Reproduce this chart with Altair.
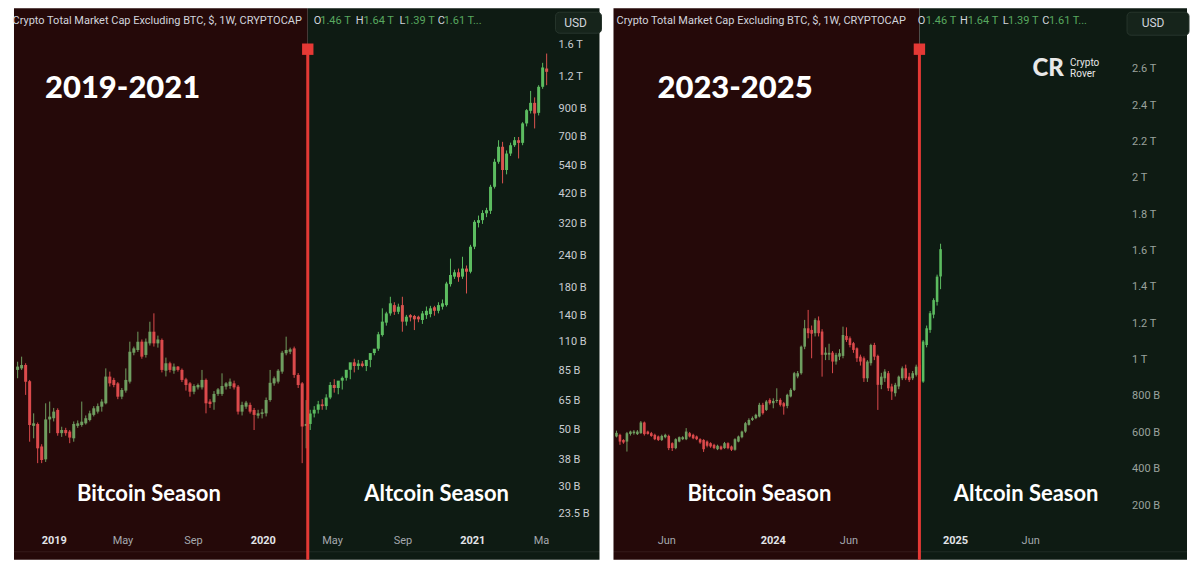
import altair as alt
import numpy as np
import pandas as pd

# ---------------- data ----------------
# Left panel: weekly candles, values in billions USD
left_start = "2018-10-29"
left_open = [85.9, 87.1, 89.8, 77.6, 51.9, 52.8, 43.1, 38.4, 55.0, 55.6,
             59.9, 48.6, 50.0, 49.3, 46.4, 51.9, 52.3, 53.1, 54.7, 57.3,
             59.0, 61.7, 63.6, 80.9, 78.5, 76.1, 67.5, 71.3, 77.3, 100.3,
             102.8, 110.8, 98.3, 109.1, 121.2, 109.1, 112.5, 85.3, 91.2, 85.3,
             88.5, 85.9, 78.9, 76.1, 70.6, 73.4, 73.4, 78.5, 64.6, 64.2,
             69.2, 69.2, 73.9, 74.3, 76.1, 73.9, 59.0, 61.7, 62.7, 59.9,
             56.9, 57.8, 58.1, 65.5, 76.1, 77.3, 84.6, 99.8, 101.2, 104.3,
             82.1, 76.1, 51.9, 52.8, 58, 60, 63, 62, 67, 75,
             73, 78, 80, 86, 92, 89, 91, 89, 94, 100,
             104, 117.6, 131.5, 142.9, 154, 145, 154, 132.7, 140.7, 139.6,
             138.7, 134.7, 140.7, 142, 151, 146.3, 151.8, 154, 186, 199,
             207, 199, 214, 208, 260.6, 323, 331, 352, 360, 447,
             560, 641, 520, 603, 650, 680, 664, 791, 886, 952,
             870, 1100, 1297]
left_high = [92.5, 96.8, 91.2, 78.5, 58.1, 53.5, 44.0, 63.6, 64.6, 61.0,
             60.8, 51.5, 51.0, 50.0, 54.0, 54.5, 64.6, 57.0, 59.5, 62.0,
             63.5, 66.0, 87.1, 84.6, 80.0, 77.0, 73.0, 87.1, 110.8, 106.0,
             121.2, 113.0, 114.0, 132.6, 143.0, 117.0, 114.0, 96.0, 92.5, 91.0,
             89.0, 87.0, 80.0, 77.0, 75.5, 76.0, 85.9, 79.5, 66.0, 71.0,
             73.0, 83.3, 77.0, 79.5, 78.0, 75.0, 64.5, 65.0, 64.0, 61.0,
             60.0, 60.5, 67.0, 85.9, 81.0, 86.5, 102.0, 115.9, 105.0, 106.0,
             83.5, 77.0, 65.5, 60, 62, 65, 66, 69, 77, 79,
             77, 81, 83, 88, 95, 94, 93, 92, 96, 102,
             121, 149.6, 145, 166, 158, 156, 166, 141, 142, 141,
             140, 146, 152, 153, 153, 158, 162, 190, 234, 212,
             214, 238, 220, 265, 331, 345, 362, 370, 455, 575,
             680, 670, 620, 665, 700, 700, 800, 900, 1060, 1000,
             1116, 1365, 1484]
left_low = [79.7, 85.9, 68.6, 45.0, 46.4, 37.1, 37.1, 37.5, 48.6, 54.0,
            47.5, 47.0, 47.5, 44.4, 45.0, 51.0, 51.5, 52.5, 54.0, 56.5,
            58.0, 59.0, 63.0, 74.0, 73.5, 66.0, 66.0, 70.0, 76.0, 98.0,
            101.0, 95.0, 96.0, 107.0, 106.0, 105.0, 84.0, 81.0, 84.0, 83.0,
            84.6, 77.0, 71.3, 67.5, 69.0, 72.0, 72.0, 58.1, 61.0, 60.0,
            68.0, 68.0, 72.0, 72.5, 72.0, 57.5, 57.0, 60.5, 58.0, 50.0,
            55.5, 55.5, 56.5, 64.5, 74.5, 76.0, 83.0, 98.0, 99.0, 80.0,
            73.0, 37.1, 42.4, 50, 56, 58, 60, 60, 66, 70,
            69, 72, 78, 79, 84, 86, 88, 85, 88, 98,
            102, 116, 128, 140, 141, 142, 121.2, 128, 133, 123,
            132, 130, 136, 138, 140, 143, 148, 152, 182, 195,
            190, 195, 171, 205, 255, 310, 320, 340, 350, 440,
            550, 461, 500, 590, 640, 577, 650, 770, 865, 756,
            850, 1080, 1116]
left_close = [88.5, 89.8, 77.3, 52.3, 53.1, 42.4, 38.2, 55.0, 56.4, 59.0,
              48.6, 50.0, 48.6, 46.7, 52.8, 53.1, 53.9, 55.6, 58.1, 60.8,
              62.0, 64.6, 80.9, 76.1, 75.0, 67.5, 71.7, 78.5, 101.2, 104.3,
              110.8, 96.8, 110.8, 121.2, 109.1, 113.0, 85.9, 91.2, 85.9, 88.5,
              85.9, 78.5, 75.0, 70.6, 74.3, 75.0, 78.5, 63.6, 63.2, 69.2,
              72.1, 74.3, 76.1, 77.3, 73.4, 59.0, 62.7, 64.0, 59.0, 57.3,
              58.1, 58.6, 65.5, 76.5, 79.7, 85.3, 100.3, 102.8, 103.4, 82.1,
              75.0, 51.6, 52.8, 58, 60, 63, 62, 67, 75, 73,
              78, 80, 86, 92, 89, 91, 89, 94, 100, 104,
              118.4, 132.7, 142.9, 156.5, 145, 151.8, 132.7, 138.7, 137.9, 135.5,
              135.5, 142.9, 146.3, 149.6, 146.3, 154, 156.5, 187, 202, 207,
              198, 214, 208, 260.6, 326, 331, 353, 362, 447, 560,
              641, 520, 603, 650, 680, 664, 791, 891, 952, 865,
              1100, 1309, 1259]

# Right panel: weekly candles, values in trillions USD
right_start = "2023-02-20"
right_open = [.580, .589, .561, .552, .594, .598, .593, .598, .657, .607,
              .598, .589, .580, .561, .576, .583, .543, .516, .552, .565,
              .565, .598, .589, .580, .565, .561, .552, .543, .534, .510,
              .525, .516, .543, .525, .507, .552, .576, .607, .644, .671,
              .681, .690, .754, .726, .781, .763, .775, .781, .763, .748,
              .800, .836, .910, .928, 1.074, 1.175, 1.166, 1.148, 1.218, 1.157,
              1.029, 1.030, 1.041, .992, 1.019, 1.023, 1.133, 1.120, 1.093, 1.065,
              1.019, 1.010, .900, .983, 1.083, 1.023, .864, .900, .928, .855,
              .818, .855, .900, .955, .909, .900, .919, .974, .882, 1.083,
              1.166, 1.250, 1.320, 1.460]
right_high = [.612, .595, .565, .605, .612, .615, .615, .665, .662, .612,
              .605, .595, .585, .590, .595, .590, .548, .570, .580, .582,
              .626, .605, .595, .585, .570, .565, .558, .548, .540, .535,
              .530, .550, .548, .530, .570, .585, .612, .660, .680, .690,
              .705, .765, .765, .780, .790, .790, .845, .790, .770, .815,
              .845, .935, .940, 1.080, 1.221, 1.276, 1.190, 1.230, 1.240, 1.170,
              1.070, 1.090, 1.050, 1.040, 1.060, 1.184, 1.180, 1.130, 1.100, 1.070,
              1.030, 1.020, 1.000, 1.090, 1.095, 1.030, .930, .950, .940, .870,
              .875, .915, .965, .975, .930, .940, .975, .985, 1.110, 1.190,
              1.270, 1.340, 1.470, 1.640]
right_low = [.575, .534, .540, .497, .585, .590, .588, .595, .585, .590,
             .578, .560, .555, .555, .570, .505, .500, .510, .548, .560,
             .560, .575, .565, .560, .540, .495, .520, .518, .510, .505,
             .505, .512, .510, .500, .502, .548, .570, .600, .640, .665,
             .675, .685, .700, .720, .755, .735, .765, .745, .700, .735,
             .795, .830, .900, .920, 1.060, 1.120, 1.010, 1.130, 1.130, .909,
             1.000, 1.000, .928, .975, 1.000, 1.010, 1.100, 1.070, 1.040, .990,
             .970, .880, .880, .970, 1.000, .726, .840, .880, .830, .781,
             .800, .840, .890, .890, .880, .890, .910, .875, .875, 1.070,
             1.150, 1.230, 1.300, 1.390]
right_close = [.600, .552, .547, .598, .607, .607, .607, .657, .593, .594,
               .583, .565, .561, .583, .589, .516, .516, .565, .576, .576,
               .607, .580, .570, .565, .547, .510, .529, .525, .516, .529,
               .510, .543, .516, .507, .565, .580, .607, .653, .671, .681,
               .699, .754, .708, .772, .763, .775, .781, .754, .745, .809,
               .836, .928, .928, 1.074, 1.175, 1.148, 1.145, 1.221, 1.148, 1.029,
               1.041, 1.040, .992, 1.029, 1.038, 1.138, 1.111, 1.083, 1.056, 1.010,
               .992, .900, .992, 1.083, 1.019, .864, .909, .937, .845, .827,
               .864, .909, .955, .900, .891, .928, .964, .882, 1.102, 1.175,
               1.258, 1.330, 1.459, 1.610]

left_split = "2020-03-18T18:00"
right_split = "2024-10-20T12:00"

left_x_domain = ["2018-10-22T15:36", "2021-08-10T07:12"]
right_x_domain = ["2023-02-14T00:00", "2026-04-11T00:00"]
left_y_domain = [15.54e9, 2.232e12]
right_y_domain = [-0.098e12, 2.935e12]

left_x_ticks = ["2019-01-01", "2019-05-01", "2019-09-01", "2020-01-01",
                "2020-05-01", "2020-09-01", "2021-01-01", "2021-05-01"]
left_x_labels = ["2019", "May", "Sep", "2020", "May", "Sep", "2021", "Ma"]
right_x_ticks = ["2023-06-01", "2024-01-01", "2024-06-01", "2025-01-01", "2025-06-01"]
right_x_labels = ["Jun", "2024", "Jun", "2025", "Jun"]

left_y_ticks = [23.5e9, 30e9, 38e9, 50e9, 65e9, 85e9, 110e9, 140e9, 180e9,
                240e9, 320e9, 420e9, 540e9, 700e9, 900e9, 1.2e12, 1.6e12]
left_y_labels = ["23.5 B", "30 B", "38 B", "50 B", "65 B", "85 B", "110 B",
                 "140 B", "180 B", "240 B", "320 B", "420 B", "540 B", "700 B",
                 "900 B", "1.2 T", "1.6 T"]
right_y_ticks = [200e9, 400e9, 600e9, 800e9, 1000e9, 1200e9, 1400e9,
                 1600e9, 1800e9, 2000e9, 2200e9, 2400e9, 2600e9]
right_y_labels = ["200 B", "400 B", "600 B", "800 B", "1 T", "1.2 T", "1.4 T",
                  "1.6 T", "1.8 T", "2 T", "2.2 T", "2.4 T", "2.6 T"]

header_title = "Crypto Total Market Cap Excluding BTC, $, 1W, CRYPTOCAP"
ohlc_letters = ["O", "H", "L", "C"]
ohlc_values = ["1.46 T", "1.64 T", "1.39 T", "1.61 T..."]
period_titles = ["2019-2021", "2023-2025"]
season_labels = ["Bitcoin Season", "Altcoin Season"]

# ---------------- style ----------------
RED_BG = "#250909"
GREEN_BG = "#0e1b13"
LINE_RED = "#e53935"
UI_FONT = "Roboto"
BIG_FONT = "Lato"
W_L, W_R, H = 596, 584, 552

COLOR_DOMAIN = ["btc_bg", "alt_bg", "btc_up", "btc_down", "alt_up", "alt_down"]
COLOR_RANGE = [RED_BG, GREEN_BG, "#6f9e60", "#dc4a4c", "#5cbc60", "#d9534f"]
color_scale = alt.Scale(domain=COLOR_DOMAIN, range=COLOR_RANGE)


def ms(s):
    return int(pd.Timestamp(s).tz_localize("UTC").value // 10**6)


def iso(s):
    return pd.Timestamp(s).strftime("%Y-%m-%dT%H:%M:%SZ")


def candle_frame(start, o, h, l, c, split, unit):
    dates = pd.date_range(start, periods=len(o), freq="7D")
    zone = np.where(dates < pd.Timestamp(split), "btc", "alt")
    direction = np.where(np.array(c) >= np.array(o), "up", "down")
    return pd.DataFrame({
        "date": dates.strftime("%Y-%m-%d"),
        "open": np.array(o) * unit,
        "high": np.array(h) * unit,
        "low": np.array(l) * unit,
        "close": np.array(c) * unit,
        "kind": [f"{z}_{d}" for z, d in zip(zone, direction)],
    })


def txt(s, x, y, size, color, weight="normal", align="left", font=UI_FONT):
    return alt.Chart(pd.DataFrame({"t": [s]})).mark_text(
        align=align, baseline="middle", font=font, fontSize=size,
        fontWeight=weight, color=color
    ).encode(x=alt.value(x), y=alt.value(y), text="t:N")


def box(x0, x1, y0, y1):
    return alt.Chart(pd.DataFrame({"t": [0]})).mark_rect(
        cornerRadius=4, fill="#16241b", stroke="#27352c", strokeWidth=1
    ).encode(x=alt.value(x0), x2=alt.value(x1), y=alt.value(y0), y2=alt.value(y1))


def panel(df, W, x_domain, split, y_scale, x_ticks, x_labels, y_ticks, y_labels,
          y_label_x, y_label_color, body_size, texts):
    xs = alt.Scale(type="utc", domain=[ms(x_domain[0]), ms(x_domain[1])])
    zones = pd.DataFrame({
        "start": [iso(x_domain[0]), iso(split)],
        "end": [iso(split), iso(x_domain[1])],
        "kind": ["btc_bg", "alt_bg"],
    })
    bg = alt.Chart(zones).mark_rect().encode(
        x=alt.X("start:T", scale=xs, axis=None), x2="end:T",
        y=alt.value(0), y2=alt.value(H),
        color=alt.Color("kind:N", scale=color_scale, legend=None),
    )
    wick = alt.Chart(df).mark_rule(strokeWidth=1).encode(
        x=alt.X("date:T", scale=xs, axis=None),
        y=alt.Y("low:Q", scale=y_scale, axis=None), y2="high:Q",
        color=alt.Color("kind:N", scale=color_scale, legend=None),
    )
    body = alt.Chart(df).mark_bar(size=body_size).encode(
        x=alt.X("date:T", scale=xs, axis=None),
        y=alt.Y("open:Q", scale=y_scale, axis=None), y2="close:Q",
        color=alt.Color("kind:N", scale=color_scale, legend=None),
    )
    # price scale labels (positioned by the y scale)
    ylab = alt.Chart(pd.DataFrame({"v": y_ticks, "label": y_labels})).mark_text(
        align="left", baseline="middle", font=UI_FONT, fontSize=11, color=y_label_color
    ).encode(x=alt.value(y_label_x), y=alt.Y("v:Q", scale=y_scale, axis=None), text="label:N")
    # time scale labels (positioned by the x scale)
    xdf = pd.DataFrame({"d": [iso(t) for t in x_ticks], "label": x_labels,
                        "year": [lbl.isdigit() for lbl in x_labels]})
    xlab_months = alt.Chart(xdf[~xdf["year"]]).mark_text(
        align="center", baseline="middle", font=UI_FONT, fontSize=11, color="#a4a8ae"
    ).encode(x=alt.X("d:T", scale=xs, axis=None), y=alt.value(533), text="label:N")
    xlab_years = alt.Chart(xdf[xdf["year"]]).mark_text(
        align="center", baseline="middle", font=UI_FONT, fontSize=11,
        fontWeight="bold", color="#e2e4e8"
    ).encode(x=alt.X("d:T", scale=xs, axis=None), y=alt.value(533), text="label:N")
    base_line = alt.Chart(pd.DataFrame({"t": [0]})).mark_rule(
        color="#ffffff", opacity=0.08, strokeWidth=1
    ).encode(x=alt.value(0), x2=alt.value(W - 4), y=alt.value(544))
    split_df = pd.DataFrame({"d": [iso(split)]})
    rule = alt.Chart(split_df).mark_rule(color=LINE_RED, strokeWidth=3).encode(
        x=alt.X("d:T", scale=xs, axis=None), y=alt.value(41), y2=alt.value(H)
    )
    sq = alt.Chart(split_df).mark_square(color=LINE_RED, size=130, opacity=1, filled=True).encode(
        x=alt.X("d:T", scale=xs, axis=None), y=alt.value(41)
    )
    return alt.layer(bg, wick, body, ylab, base_line, xlab_months, xlab_years,
                     rule, sq, *texts).properties(width=W, height=H)


def header(x_title, letter_x, value_x):
    parts = [txt(header_title, x_title, 13, 11, "#d1d4dc")]
    for letter, lx, val, vx in zip(ohlc_letters, letter_x, ohlc_values, value_x):
        parts.append(txt(letter, lx, 13, 11, "#d1d4dc"))
        parts.append(txt(val, vx, 13, 11, "#58a85f"))
    return parts


left_df = candle_frame(left_start, left_open, left_high, left_low, left_close, left_split, 1e9)
right_df = candle_frame(right_start, right_open, right_high, right_low, right_close, right_split, 1e12)

left_texts = header(3.5, [305, 347, 390.8, 429], [311.5, 354.7, 395.6, 435]) + [
    box(547, 593, 4, 25),
    txt("USD", 567, 15, 12, "#d1d4dc", align="center"),
    txt(period_titles[0], 36, 81, 31, "#ffffff", weight=900, font=BIG_FONT),
    txt(season_labels[0], 140, 486, 22, "#ffffff", weight="bold", align="center", font=BIG_FONT),
    txt(season_labels[1], 428, 486, 22, "#ffffff", weight="bold", align="center", font=BIG_FONT),
]
right_texts = header(8, [309.6, 351.7, 394.6, 434], [317.5, 359.6, 399.8, 440.8]) + [
    box(519, 581, 4, 27),
    txt("USD", 545, 15, 12, "#d1d4dc", align="center"),
    txt(period_titles[1], 49, 81, 31, "#ffffff", weight=900, font=BIG_FONT),
    txt(season_labels[0], 151, 486, 22, "#ffffff", weight="bold", align="center", font=BIG_FONT),
    txt(season_labels[1], 418, 486, 22, "#ffffff", weight="bold", align="center", font=BIG_FONT),
    txt("CR", 440, 61, 24, "#e8e8e8", weight=900, align="center", font=BIG_FONT),
    txt("Crypto", 462, 55, 10, "#e8e8e8"),
    txt("Rover", 462, 66, 10, "#e8e8e8"),
]

left = panel(
    left_df, W_L, left_x_domain, left_split,
    alt.Scale(type="log", domain=left_y_domain, nice=False, zero=False),
    left_x_ticks, left_x_labels, left_y_ticks, left_y_labels,
    550, "#c9cdd1", 3, left_texts,
)
right = panel(
    right_df, W_R, right_x_domain, right_split,
    alt.Scale(type="linear", domain=right_y_domain, nice=False, zero=False),
    right_x_ticks, right_x_labels, right_y_ticks, right_y_labels,
    524, "#9aa29d", 2.6, right_texts,
)

chart = alt.hconcat(left, right, spacing=4, bounds="flush").properties(
    padding=0, background="white"
).configure_view(strokeWidth=0)

chart.save("out.html", embed_options={"renderer": "svg", "actions": False})
